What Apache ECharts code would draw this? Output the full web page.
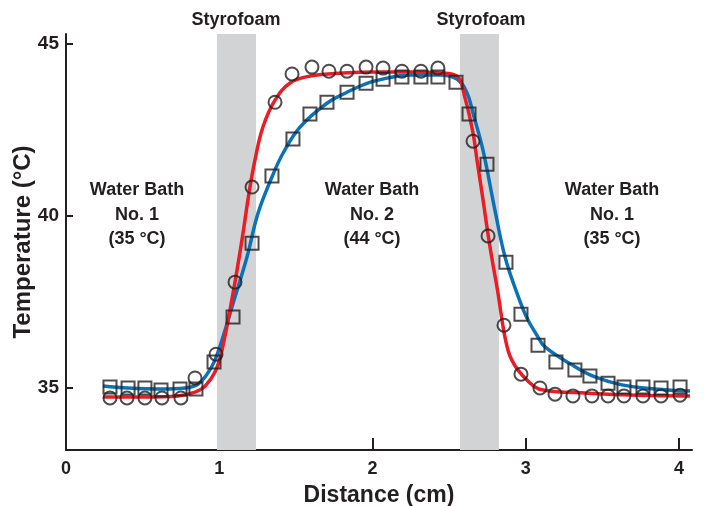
<!DOCTYPE html>
<html>
<head>
<meta charset="utf-8">
<script src="https://cdn.jsdelivr.net/npm/echarts@6/dist/echarts.min.js"></script>
<style>
html,body{margin:0;padding:0;background:#fff;}
#main{width:705px;height:506px;}
</style>
</head>
<body>
<div id="main"></div>
<script>
// ticks
var xTicks = [0, 1, 2, 3, 4];
var yTicks = [35, 40, 45];

// styrofoam zones (cm)
var foamBands = [[0.985, 1.24], [2.571, 2.825]];

// measured points, circles (red curve)
var circleX = [0.287, 0.398, 0.515, 0.626, 0.750, 0.842, 0.979, 1.103, 1.214, 1.364, 1.475, 1.605, 1.716, 1.834, 1.958, 2.069, 2.192, 2.316, 2.427,
               2.656, 2.754, 2.858, 2.969, 3.093, 3.191, 3.308, 3.432, 3.537, 3.641, 3.765, 3.883, 4.007];
var circleY = [34.71, 34.71, 34.71, 34.71, 34.71, 35.29, 35.98, 38.07, 40.83, 43.29, 44.11, 44.31, 44.19, 44.19, 44.31, 44.28, 44.19, 44.19, 44.28,
               42.16, 39.41, 36.82, 35.40, 35.00, 34.82, 34.77, 34.77, 34.77, 34.77, 34.77, 34.77, 34.79];

// measured points, squares (blue curve)
var squareX = [0.287, 0.405, 0.515, 0.620, 0.744, 0.848, 0.966, 1.090, 1.214, 1.344, 1.481, 1.592, 1.703, 1.834, 1.958, 2.069, 2.192, 2.316, 2.427,
               2.545, 2.630, 2.747, 2.871, 2.969, 3.080, 3.197, 3.321, 3.419, 3.537, 3.641, 3.765, 3.883, 4.007];
var squareY = [35.03, 35.00, 35.00, 34.94, 34.97, 34.97, 35.75, 37.06, 39.20, 41.15, 42.22, 42.95, 43.29, 43.58, 43.84, 43.96, 44.02, 44.02, 44.02,
               43.87, 42.95, 41.49, 38.65, 37.14, 36.24, 35.75, 35.52, 35.35, 35.14, 35.03, 35.03, 35.00, 35.03];

// fitted curves
var redX = [0.241, 0.515, 0.731, 0.842, 0.907, 0.972, 1.018, 1.090, 1.148, 1.194, 1.233, 1.285, 1.364, 1.462, 1.593, 1.808, 2.029, 2.245, 2.440,
            2.551, 2.604, 2.656, 2.682, 2.715, 2.767, 2.819, 2.865, 2.910, 3.008, 3.113, 3.406, 3.732, 4.072];
var redY = [34.74, 34.74, 34.77, 34.88, 35.05, 35.46, 36.10, 37.75, 39.29, 40.65, 41.61, 42.57, 43.35, 43.85, 44.05, 44.14, 44.17, 44.17, 44.14,
            44.05, 43.41, 42.40, 41.61, 40.65, 39.09, 37.75, 36.47, 35.80, 35.23, 34.94, 34.85, 34.79, 34.77];

var blueX = [0.241, 0.405, 0.626, 0.777, 0.861, 0.920, 0.966, 1.018, 1.083, 1.181, 1.253, 1.344, 1.416, 1.527, 1.703, 1.834, 1.964, 2.095, 2.245, 2.440,
             2.551, 2.617, 2.656, 2.721, 2.799, 2.865, 2.943, 3.008, 3.073, 3.126, 3.302, 3.452, 3.628, 3.843, 4.072];
var blueY = [35.06, 35.00, 34.97, 35.00, 35.11, 35.40, 35.75, 36.39, 37.35, 38.80, 40.07, 41.12, 41.81, 42.57, 43.26, 43.58, 43.84, 43.99, 44.08, 44.08,
             43.96, 43.56, 42.97, 41.90, 40.16, 38.80, 37.75, 37.03, 36.53, 36.19, 35.67, 35.32, 35.09, 34.97, 34.91];

function zip(xs, ys){
    var out = [];
    for(var i = 0; i < xs.length; i++){
        out.push([xs[i], ys[i]]);
    }
    return out;
}

var ink = '#231f20';
var fontFam = '"Liberation Sans", Arial, Helvetica, sans-serif';

var bandData = [];
for(var b = 0; b < foamBands.length; b++){
    bandData.push([{xAxis: foamBands[b][0]}, {xAxis: foamBands[b][1]}]);
}

function bathLabel(x, txt){
    return {
        type: 'text', x: x, y: 178,
        style: {text: txt, align: 'center', verticalAlign: 'top', lineHeight: 24.5,
                fill: ink, font: 'bold 18px ' + fontFam}
    };
}
function foamLabel(x){
    return {
        type: 'text', x: x, y: 20,
        style: {text: 'Styrofoam', align: 'center', verticalAlign: 'middle',
                fill: ink, font: 'bold 18px ' + fontFam}
    };
}

var option = {
    animation: false,
    backgroundColor: '#fff',
    grid: {left: 66, right: 13, top: 34, bottom: 56, containLabel: false, outerBoundsMode: 'none'},
    xAxis: {
        type: 'value', min: 0, max: 4.085,
        name: 'Distance (cm)', nameLocation: 'middle', nameGap: 34, nameMoveOverlap: false,
        nameTextStyle: {color: ink, fontFamily: fontFam, fontWeight: 'bold', fontSize: 23},
        axisLine: {lineStyle: {color: ink, width: 2}},
        axisTick: {inside: true, length: 12, customValues: xTicks, lineStyle: {color: ink, width: 2}},
        axisLabel: {customValues: xTicks, margin: 10, color: ink, fontFamily: fontFam, fontWeight: 'bold', fontSize: 18},
        splitLine: {show: false}
    },
    yAxis: {
        type: 'value', min: 33.2, max: 45.27,
        name: 'Temperature (°C)', nameLocation: 'middle', nameGap: 31, nameMoveOverlap: false,
        nameTextStyle: {color: ink, fontFamily: fontFam, fontWeight: 'bold', fontSize: 24},
        axisLine: {lineStyle: {color: ink, width: 2}},
        axisTick: {inside: true, length: 7, customValues: yTicks, lineStyle: {color: ink, width: 2}},
        axisLabel: {customValues: yTicks, margin: 7, color: ink, fontFamily: fontFam, fontWeight: 'bold', fontSize: 19},
        splitLine: {show: false}
    },
    graphic: [
        foamLabel(236), foamLabel(481),
        bathLabel(137, 'Water Bath\nNo. 1\n(35 °C)'),
        bathLabel(372, 'Water Bath\nNo. 2\n(44 °C)'),
        bathLabel(612, 'Water Bath\nNo. 1\n(35 °C)')
    ],
    series: [
        {
            type: 'line', data: [], z: 1, silent: true,
            markArea: {silent: true, itemStyle: {color: '#d1d3d4', opacity: 1}, data: bandData}
        },
        {
            type: 'line', data: zip(blueX, blueY), z: 2, smooth: 0.4, showSymbol: false,
            lineStyle: {color: '#0b72ba', width: 3.5}
        },
        {
            type: 'line', data: zip(redX, redY), z: 3, smooth: 0.4, showSymbol: false,
            lineStyle: {color: '#ec1c24', width: 3.5}
        },
        {
            type: 'scatter', data: zip(squareX, squareY), z: 4, symbol: 'rect', symbolSize: 13,
            itemStyle: {color: 'rgba(0,0,0,0)', borderColor: ink, borderWidth: 2}
        },
        {
            type: 'scatter', data: zip(circleX, circleY), z: 5, symbol: 'circle', symbolSize: 13,
            itemStyle: {color: 'rgba(0,0,0,0)', borderColor: ink, borderWidth: 2}
        }
    ]
};

var chart = echarts.init(document.getElementById('main'));
chart.setOption(option);
</script>
</body>
</html>
